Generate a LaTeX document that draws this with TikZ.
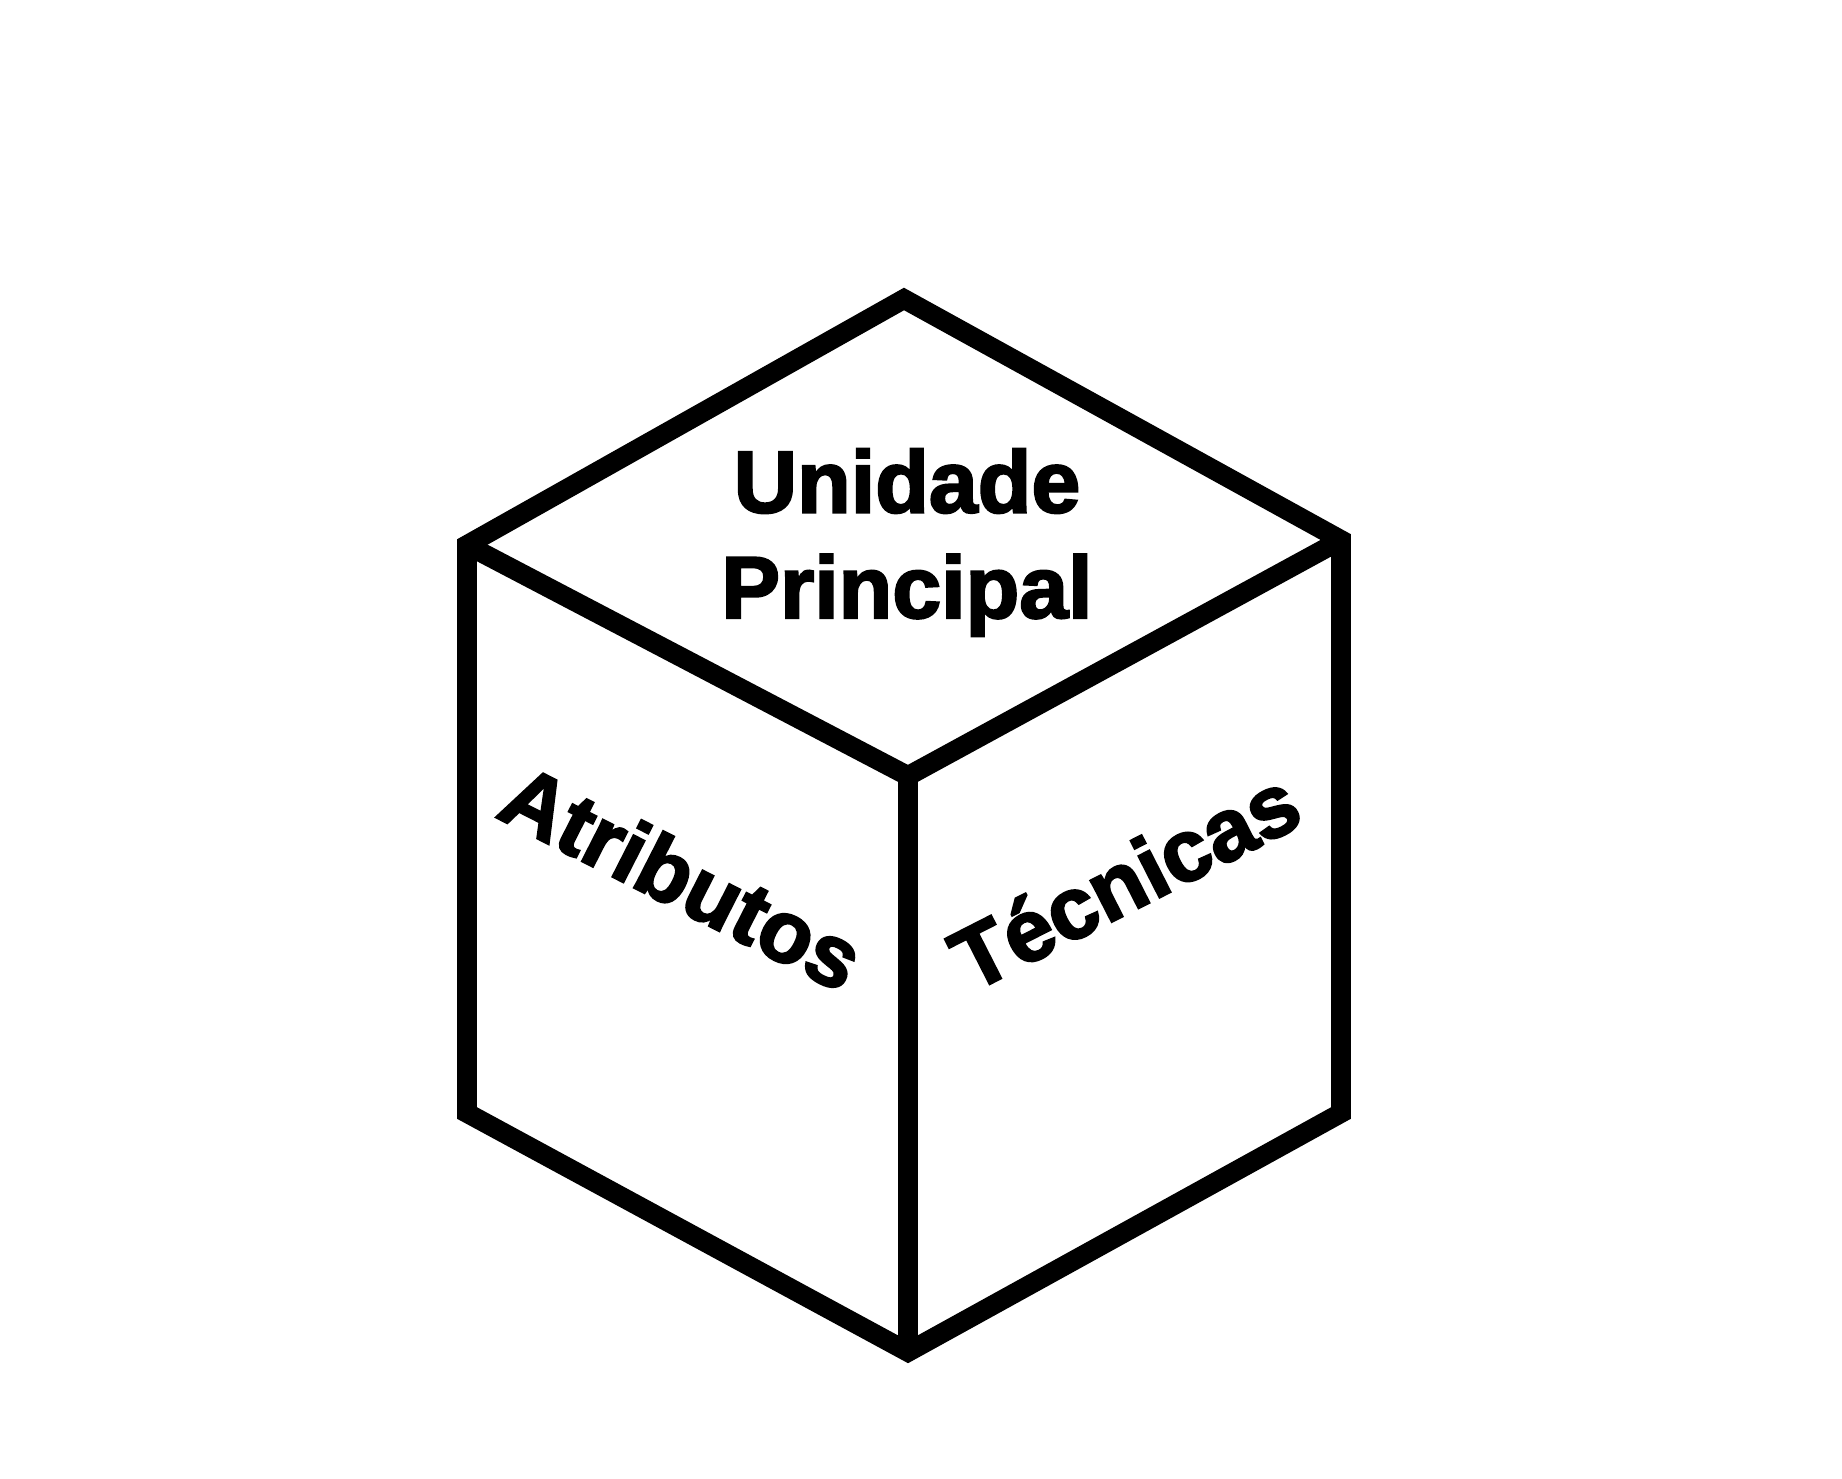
\documentclass[tikz,border=0pt]{standalone}
\usepackage{fontspec}
\setmainfont{Liberation Sans}[BoldFeatures={FakeBold=2.5}]
\usepackage{tikz}
\usetikzlibrary{positioning}

\begin{document}
\begin{tikzpicture}[x=1cm,y=1cm,every node/.style={font=\bfseries\fontsize{25}{30}\selectfont,inner sep=0pt}]
\useasboundingbox (0,0) rectangle (18.42,14.78);
\coordinate (top) at (9.04,11.79);
\coordinate (lt) at (4.67,9.33);
\coordinate (rt) at (13.41,9.38);
\coordinate (mid) at (9.08,7.02);
\coordinate (lb) at (4.67,3.65);
\coordinate (rb) at (13.41,3.65);
\coordinate (bot) at (9.08,1.26);
\draw[line width=5.6pt,line join=miter] (top) -- (lt) -- (lb) -- (bot) -- (rb) -- (rt) -- cycle;
\draw[line width=5.6pt,line join=miter] (lt) -- (mid) -- (rt);
\draw[line width=5.6pt] (mid) -- (bot);
\node[align=center] (unidade) at (9.07,9.355) {Unidade\\Principal};
\begin{scope}[shift={(6.68,5.73)},rotate=-27]
\node[anchor=base,transform shape] (atributos) at (0,0) {Atributos};
\end{scope}
\begin{scope}[shift={(11.39,5.70)},rotate=27]
\node[anchor=base,transform shape] (tecnicas) at (0,0) {Técnicas};
\end{scope}
\end{tikzpicture}
\end{document}
